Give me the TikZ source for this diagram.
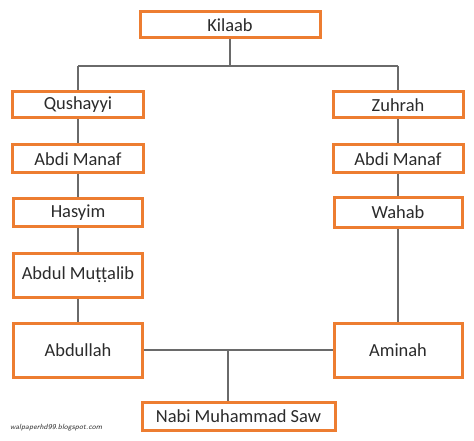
\documentclass[tikz,border=0pt]{standalone}
\usepackage{fontspec}
\setmainfont{Carlito}
\definecolor{boxorange}{HTML}{ED7D31}
\definecolor{linegray}{HTML}{6A6A6A}
\definecolor{textdark}{HTML}{2B2B2B}
\begin{document}
\begin{tikzpicture}[x=1bp,y=-1bp,
  person/.style={draw=boxorange,line width=3bp,fill=white,inner sep=0pt,font=\fontsize{18.5}{22}\selectfont,text=textdark},
  link/.style={draw=linegray,line width=1.8bp}]
\useasboundingbox (0,0) rectangle (474,441);
\newcommand{\pbox}[6]{\node[person,minimum width=#4bp,minimum height=#5bp] (#1) at (#2,#3) {#6};}
\pbox{kil}{230}{25}{180}{26}{Kilaab}
\pbox{qus}{78}{105}{130}{26}{Qushayyi}
\pbox{amL}{78}{159}{130}{28}{Abdi Manaf}
\pbox{has}{78}{212.5}{128}{27}{Hasyim}
\pbox{mut}{78}{275}{129}{44}{Abdul Muṭṭalib}
\pbox{abd}{78}{350}{129}{54}{Abdullah}
\pbox{zuh}{398}{105}{130}{26}{Zuhrah}
\pbox{amR}{398}{159}{130}{28}{Abdi Manaf}
\pbox{wah}{398}{212.5}{128}{29}{Wahab}
\pbox{ami}{398}{350}{128}{54}{Aminah}
\pbox{nab}{238.5}{416}{193}{28}{Nabi Muhammad Saw}
\coordinate (top) at (kil.south |- 0,66);
\coordinate (mid) at (228,350);
\draw[link] (kil.south) -- (top);
\draw[link] (qus.north |- top) -- (zuh.north |- top);
\draw[link] (qus.north |- top) -- (qus.north);
\draw[link] (zuh.north |- top) -- (zuh.north);
\draw[link] (qus) -- (amL);
\draw[link] (amL) -- (has);
\draw[link] (has) -- (mut);
\draw[link] (mut) -- (abd);
\draw[link] (zuh) -- (amR);
\draw[link] (amR) -- (wah);
\draw[link] (wah) -- (ami);
\draw[link] (abd) -- (ami);
\draw[link] (mid) -- (mid |- nab.north);
\node[font=\sffamily\itshape\fontsize{7.5}{9}\selectfont,text=black!80,anchor=west,inner sep=0pt] (wm) at (10,428) {walpaperhd99.blogspot.com};
\end{tikzpicture}
\end{document}
